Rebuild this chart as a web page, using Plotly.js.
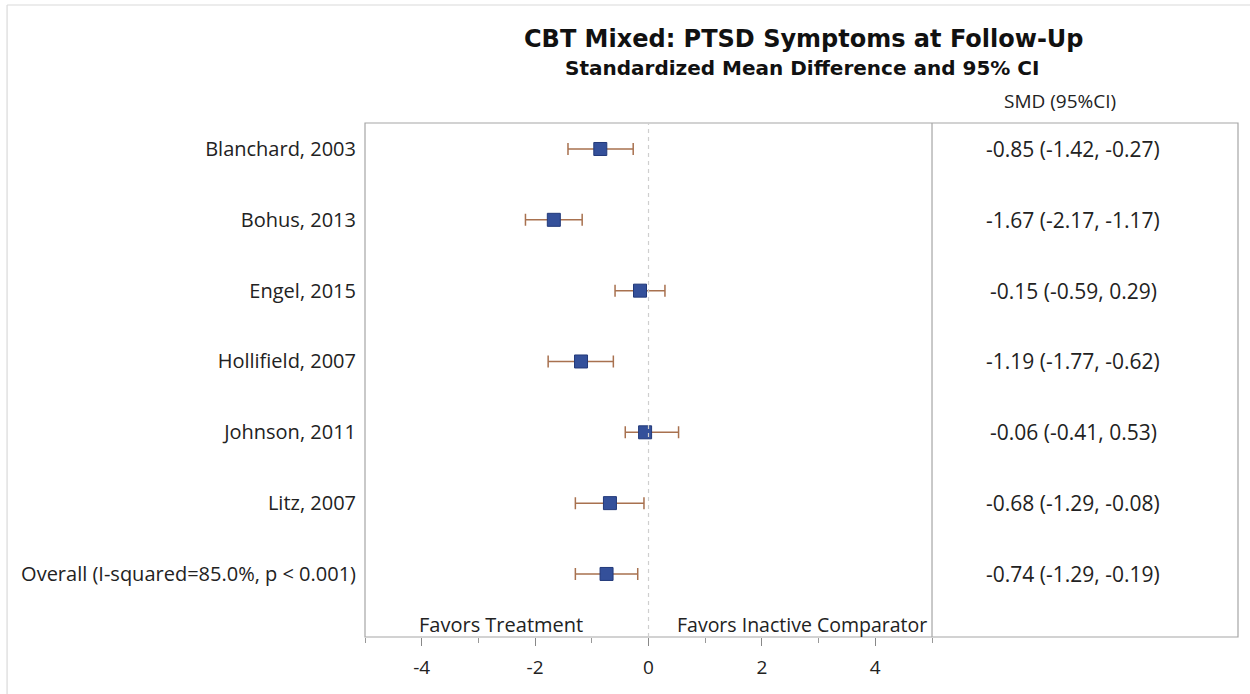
<!DOCTYPE html>
<html>
<head>
<meta charset="utf-8">
<script src="https://cdn.plot.ly/plotly-3.0.1.min.js"></script>
<style>html,body{margin:0;padding:0;background:#fff;}#chart{width:1250px;height:694px;}</style>
</head>
<body>
<div id="chart"></div>
<script>
const studies = ["Blanchard, 2003", "Bohus, 2013", "Engel, 2015", "Hollifield, 2007", "Johnson, 2011", "Litz, 2007", "Overall (I-squared=85.0%, p < 0.001)"];
const smd = [-0.85, -1.67, -0.15, -1.19, -0.06, -0.68, -0.74];
const ciLow = [-1.42, -2.17, -0.59, -1.77, -0.41, -1.29, -1.29];
const ciHigh = [-0.27, -1.17, 0.29, -0.62, 0.53, -0.08, -0.19];
const ciText = ["-0.85 (-1.42, -0.27)", "-1.67 (-2.17, -1.17)", "-0.15 (-0.59, 0.29)", "-1.19 (-1.77, -0.62)", "-0.06 (-0.41, 0.53)", "-0.68 (-1.29, -0.08)", "-0.74 (-1.29, -0.19)"];
const xTicks = [-4, -2, 0, 2, 4];

const FONT = "Open Sans, Noto Sans, DejaVu Sans, sans-serif";
const TFONT = "DejaVu Sans, Verdana, sans-serif";
const yIdx = studies.map((s, i) => i);

const trace = {
  type: "scatter",
  mode: "markers",
  x: smd,
  y: yIdx,
  marker: {symbol: "square", size: 13, color: "#34509A", line: {color: "#22397a", width: 1}},
  error_x: {
    type: "data", symmetric: false,
    array: smd.map((v, i) => ciHigh[i] - v),
    arrayminus: smd.map((v, i) => v - ciLow[i]),
    color: "#A8714F", thickness: 1.5, width: 6
  },
  hoverinfo: "skip",
  showlegend: false
};

const annotations = [];
studies.forEach((s, i) => {
  annotations.push({xref: "paper", yref: "y", x: 0.8115, y: i, text: ciText[i], showarrow: false,
    xanchor: "center", yanchor: "middle", font: {family: FONT, size: 21, color: "#222"}});
});
annotations.push({xref: "paper", yref: "paper", x: 0.796, y: 1.043, text: "SMD (95%CI)", showarrow: false,
  xanchor: "center", yanchor: "middle", font: {family: FONT, size: 19, color: "#222"}});
annotations.push({xref: "paper", yref: "paper", x: 0.5, y: 1.107, text: "<b>Standardized Mean Difference and 95% CI</b>", showarrow: false,
  xanchor: "center", yanchor: "middle", font: {family: TFONT, size: 20, color: "#111"}});
annotations.push({xref: "x", yref: "paper", x: -2.6, y: 0.025, text: "Favors Treatment", showarrow: false,
  xanchor: "center", yanchor: "middle", font: {family: FONT, size: 20, color: "#222"}});
annotations.push({xref: "x", yref: "paper", x: 2.7, y: 0.025, text: "Favors Inactive Comparator", showarrow: false,
  xanchor: "center", yanchor: "middle", font: {family: FONT, size: 19.5, color: "#222"}});

const shapes = [
  {type: "rect", xref: "paper", yref: "paper", x0: 0, x1: 1, y0: 0, y1: 1, line: {color: "#a6a6a6", width: 1.2}},
  {type: "line", xref: "paper", yref: "paper", x0: 0.6495, x1: 0.6495, y0: 0, y1: 1, line: {color: "#a6a6a6", width: 1.2}},
  {type: "line", xref: "x", yref: "paper", x0: 0, x1: 0, y0: 0, y1: 1, line: {color: "#cfcfcf", width: 1.2, dash: "4px,4px"}},
  {type: "line", xref: "paper", yref: "paper", x0: -0.41, x1: 1.02, y0: 1.2296, y1: 1.2296, line: {color: "#dadada", width: 1.2}},
  {type: "line", xref: "paper", yref: "paper", x0: -0.41, x1: -0.41, y0: 1.2296, y1: -0.12, line: {color: "#dadada", width: 1.2}}
];

const layout = {
  width: 1250, height: 694,
  margin: {l: 365, r: 12, t: 123, b: 57},
  paper_bgcolor: "#fff", plot_bgcolor: "#fff",
  title: {text: "<b>CBT Mixed: PTSD Symptoms at Follow-Up</b>", x: 0.643, xanchor: "center", y: 0.945, yanchor: "middle",
    font: {family: TFONT, size: 24, color: "#111"}},
  xaxis: {domain: [0, 0.6495], range: [-5, 5], tickvals: xTicks, ticktext: xTicks.map(String),
    ticks: "outside", ticklen: 8, tickcolor: "#888", tickwidth: 1, showgrid: false, zeroline: false,
    showline: false, ticklabelstandoff: 5, tickfont: {family: FONT, size: 19, color: "#222"},
    minor: {dtick: 1, tick0: 0, ticks: "outside", ticklen: 5, tickcolor: "#999", showgrid: false}},
  yaxis: {range: [6.89, -0.367], tickvals: yIdx, ticktext: studies, showgrid: false, zeroline: false,
    showline: false, ticks: "", ticklabelstandoff: 8, tickfont: {family: FONT, size: 20, color: "#222"}},
  shapes: shapes,
  annotations: annotations
};

Plotly.newPlot("chart", [trace], layout, {displayModeBar: false, staticPlot: true});
</script>
</body>
</html>
